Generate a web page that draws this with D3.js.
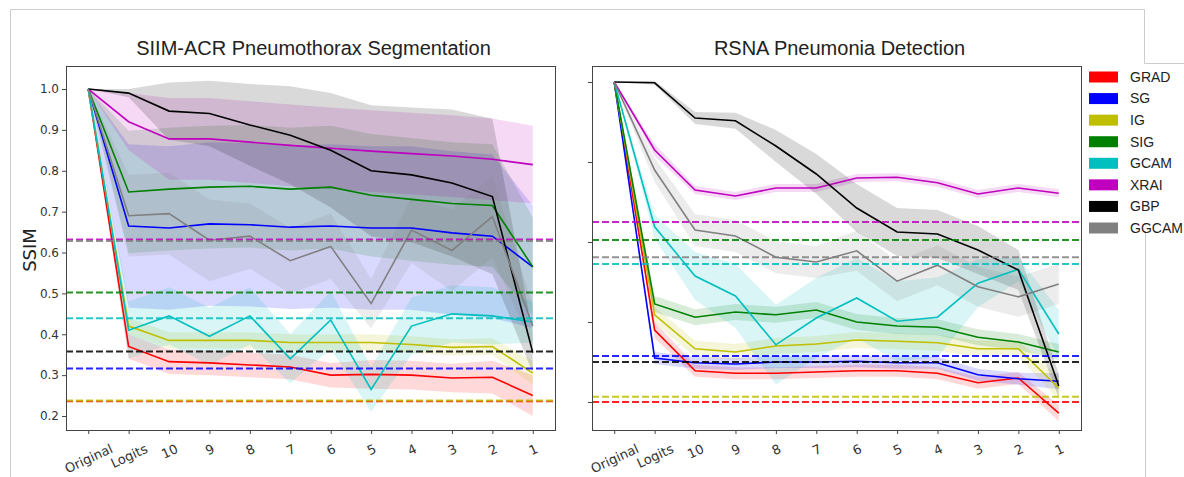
<!DOCTYPE html>
<html>
<head>
<meta charset="utf-8">
<script src="https://cdn.jsdelivr.net/npm/d3@7/dist/d3.min.js"></script>
<style>
  body { margin: 0; background: #fff; }
  svg { display: block; }
</style>
</head>
<body>
<div id="chart"></div>
<script>
// step labels along the x axis
const steps = ["Original", "Logits", "10", "9", "8", "7", "6", "5", "4", "3", "2", "1"];
const methods = ["GRAD", "SG", "IG", "SIG", "GCAM", "XRAI", "GBP", "GGCAM"];
const palette = ["#ff0000", "#0000ff", "#bfbf00", "#008000", "#00bfbf", "#bf00bf", "#000000", "#808080"];

// SIIM-ACR: mean SSIM per method (rows follow `methods`)
const siimMean = [
  [1.0, 0.37, 0.333, 0.33, 0.325, 0.32, 0.30, 0.302, 0.30, 0.293, 0.295, 0.25],
  [1.0, 0.665, 0.66, 0.67, 0.668, 0.662, 0.665, 0.66, 0.66, 0.648, 0.64, 0.565],
  [1.0, 0.42, 0.385, 0.385, 0.385, 0.38, 0.38, 0.38, 0.375, 0.368, 0.37, 0.305],
  [1.0, 0.748, 0.755, 0.76, 0.762, 0.755, 0.76, 0.74, 0.73, 0.72, 0.715, 0.565],
  [1.0, 0.41, 0.445, 0.395, 0.445, 0.34, 0.435, 0.265, 0.42, 0.45, 0.445, 0.43],
  [1.0, 0.92, 0.878, 0.878, 0.87, 0.862, 0.855, 0.848, 0.842, 0.836, 0.828, 0.815],
  [1.0, 0.99, 0.946, 0.94, 0.912, 0.887, 0.85, 0.80, 0.79, 0.77, 0.737, 0.355],
  [1.0, 0.69, 0.695, 0.63, 0.64, 0.58, 0.615, 0.475, 0.655, 0.605, 0.688, 0.42]
];
const siimSpread = [
  [0, 0.03, 0.03, 0.03, 0.03, 0.03, 0.03, 0.035, 0.035, 0.035, 0.04, 0.05],
  [0, 0.2, 0.2, 0.2, 0.2, 0.2, 0.2, 0.2, 0.2, 0.2, 0.2, 0.15],
  [0, 0.02, 0.02, 0.02, 0.02, 0.02, 0.02, 0.02, 0.02, 0.02, 0.02, 0.03],
  [0, 0.15, 0.15, 0.15, 0.15, 0.15, 0.15, 0.15, 0.15, 0.15, 0.15, 0.12],
  [0, 0.07, 0.07, 0.07, 0.07, 0.06, 0.07, 0.055, 0.07, 0.07, 0.07, 0.05],
  [0, 0.07, 0.1, 0.1, 0.1, 0.1, 0.1, 0.1, 0.1, 0.1, 0.1, 0.095],
  [0, 0.01, 0.07, 0.08, 0.1, 0.12, 0.14, 0.16, 0.165, 0.18, 0.19, 0.05],
  [0, 0.1, 0.1, 0.1, 0.08, 0.08, 0.08, 0.06, 0.08, 0.1, 0.1, 0.05]
];
const siimBaseline = [0.236, 0.316, 0.238, 0.502, 0.439, 0.632, 0.358, 0.628];

// RSNA: mean SSIM per method
const rsnaMean = [
  [1.0, 0.38, 0.278, 0.272, 0.272, 0.275, 0.278, 0.278, 0.272, 0.248, 0.26, 0.172],
  [1.0, 0.31, 0.298, 0.295, 0.30, 0.30, 0.302, 0.298, 0.298, 0.268, 0.258, 0.252],
  [1.0, 0.418, 0.333, 0.325, 0.34, 0.345, 0.355, 0.352, 0.348, 0.333, 0.333, 0.235],
  [1.0, 0.445, 0.412, 0.425, 0.418, 0.43, 0.40, 0.39, 0.387, 0.362, 0.35, 0.325],
  [1.0, 0.638, 0.515, 0.465, 0.343, 0.41, 0.46, 0.402, 0.412, 0.497, 0.532, 0.37],
  [1.0, 0.83, 0.73, 0.715, 0.735, 0.735, 0.76, 0.762, 0.748, 0.72, 0.735, 0.722],
  [1.0, 0.998, 0.91, 0.903, 0.84, 0.77, 0.685, 0.625, 0.62, 0.58, 0.53, 0.24],
  [1.0, 0.78, 0.63, 0.615, 0.562, 0.55, 0.578, 0.502, 0.542, 0.488, 0.463, 0.495]
];
const rsnaSpread = [
  [0, 0.02, 0.015, 0.015, 0.015, 0.015, 0.015, 0.015, 0.015, 0.015, 0.015, 0.02],
  [0, 0.015, 0.015, 0.015, 0.015, 0.015, 0.015, 0.015, 0.015, 0.015, 0.015, 0.02],
  [0, 0.02, 0.02, 0.02, 0.02, 0.02, 0.02, 0.02, 0.02, 0.02, 0.02, 0.03],
  [0, 0.02, 0.02, 0.02, 0.02, 0.02, 0.02, 0.02, 0.02, 0.02, 0.02, 0.02],
  [0, 0.03, 0.06, 0.08, 0.1, 0.1, 0.1, 0.1, 0.1, 0.06, 0.03, 0.06],
  [0, 0.015, 0.01, 0.01, 0.01, 0.01, 0.01, 0.01, 0.01, 0.01, 0.01, 0.01],
  [0, 0.005, 0.015, 0.02, 0.04, 0.05, 0.06, 0.06, 0.06, 0.06, 0.05, 0.03],
  [0, 0.03, 0.04, 0.04, 0.04, 0.04, 0.05, 0.05, 0.05, 0.05, 0.05, 0.05]
];
const rsnaBaseline = [0.20, 0.315, 0.213, 0.605, 0.545, 0.65, 0.30, 0.562];

const siimTicks = [0.2, 0.3, 0.4, 0.5, 0.6, 0.7, 0.8, 0.9, 1.0];
const rsnaTicks = [0.2, 0.4, 0.6, 0.8, 1.0];

const width = 1184, height = 477;
const plotTop = 66, plotBottom = 430;

const svg = d3.select("#chart").append("svg")
  .attr("width", width)
  .attr("height", height);

// page frame lines from the screenshot
const frame = svg.append("g").attr("stroke", "#cccccc").attr("fill", "none");
frame.append("path").attr("d", "M10.5,477 V9.5 H1144.5 V63.5 H1184");
frame.append("path").attr("d", "M1145.5,232 V477");

function drawPanel(opt) {
  const x = d3.scaleLinear().domain([-0.55, 11.55]).range([opt.left, opt.right]);
  const y = d3.scaleLinear().domain(opt.yDomain).range([plotBottom, plotTop]);
  const g = svg.append("g");

  const clipId = "clip-" + opt.id;
  g.append("clipPath").attr("id", clipId).append("rect")
    .attr("x", opt.left).attr("y", plotTop)
    .attr("width", opt.right - opt.left).attr("height", plotBottom - plotTop);

  const plot = g.append("g").attr("clip-path", `url(#${clipId})`);

  const area = d3.area()
    .x((d, i) => x(i))
    .y0(d => y(d[0] - d[1]))
    .y1(d => y(d[0] + d[1]));
  const line = d3.line().x((d, i) => x(i)).y(d => y(d));

  // shaded spread, all below the lines
  opt.mean.forEach((m, k) => {
    plot.append("path")
      .attr("d", area(m.map((v, i) => [v, opt.spread[k][i]])))
      .attr("fill", palette[k])
      .attr("fill-opacity", 0.15);
  });

  opt.mean.forEach((m, k) => {
    plot.append("path")
      .attr("d", line(m))
      .attr("fill", "none")
      .attr("stroke", palette[k])
      .attr("stroke-width", 1.6);
  });

  opt.baseline.forEach((b, k) => {
    plot.append("line")
      .attr("x1", opt.left).attr("x2", opt.right)
      .attr("y1", y(b)).attr("y2", y(b))
      .attr("stroke", palette[k])
      .attr("stroke-width", 2)
      .attr("stroke-dasharray", "7,3")
      .attr("stroke-opacity", 0.85);
  });

  // axes
  const xAxis = g.append("g")
    .attr("transform", `translate(0,${plotBottom})`)
    .call(d3.axisBottom(x).tickValues(d3.range(steps.length))
      .tickFormat(i => steps[i]).tickSizeOuter(0).tickSize(4).tickPadding(0));
  const ang = 25 * Math.PI / 180;
  xAxis.selectAll("text")
    .attr("font-family", "DejaVu Sans")
    .attr("font-size", 13)
    .attr("fill", "#333")
    .attr("text-anchor", "middle")
    .attr("dominant-baseline", "central")
    .attr("y", null).attr("dy", null)
    .attr("transform", function () {
      const w = this.getComputedTextLength();
      const h = 13;
      const cy = 12 + (w * Math.sin(ang) + h * Math.cos(ang)) / 2;
      return `translate(0,${cy}) rotate(-25)`;
    });

  const yAxis = g.append("g")
    .attr("transform", `translate(${opt.left},0)`)
    .call(d3.axisLeft(y).tickValues(opt.ticks)
      .tickFormat(opt.showLabels ? d3.format(".1f") : () => "")
      .tickSizeOuter(0).tickSize(4).tickPadding(3));
  yAxis.selectAll("text")
    .attr("font-family", "DejaVu Sans")
    .attr("font-size", 12)
    .attr("fill", "#333");

  g.selectAll(".domain").remove();
  g.selectAll(".tick line").attr("stroke", "#444");

  g.append("rect")
    .attr("x", opt.left + 0.5).attr("y", plotTop + 0.5)
    .attr("width", opt.right - opt.left).attr("height", plotBottom - plotTop)
    .attr("fill", "none")
    .attr("stroke", "#444")
    .attr("stroke-width", 1);

  g.append("text")
    .attr("x", (opt.left + opt.right) / 2 + 3)
    .attr("y", 55)
    .attr("text-anchor", "middle")
    .attr("font-family", "Liberation Sans")
    .attr("font-size", 20)
    .attr("fill", "#222")
    .text(opt.title);
}

drawPanel({
  id: "siim", title: "SIIM-ACR Pneumothorax Segmentation",
  left: 66, right: 555, yDomain: [0.1658, 1.0563], ticks: siimTicks, showLabels: true,
  mean: siimMean, spread: siimSpread, baseline: siimBaseline
});
drawPanel({
  id: "rsna", title: "RSNA Pneumonia Detection",
  left: 592, right: 1081, yDomain: [0.13, 1.04], ticks: rsnaTicks, showLabels: false,
  mean: rsnaMean, spread: rsnaSpread, baseline: rsnaBaseline
});

svg.append("text")
  .attr("transform", "translate(36,250) rotate(-90)")
  .attr("text-anchor", "middle")
  .attr("font-family", "DejaVu Sans")
  .attr("font-size", 18)
  .attr("fill", "#222")
  .text("SSIM");

// legend
const legend = svg.append("g");
const ly = d3.scalePoint().domain(methods).range([77, 228]);
methods.forEach((m, k) => {
  legend.append("rect")
    .attr("x", 1089).attr("y", ly(m) - 5.5)
    .attr("width", 29).attr("height", 11)
    .attr("fill", palette[k]);
  legend.append("text")
    .attr("x", 1130).attr("y", ly(m))
    .attr("dy", "0.35em")
    .attr("font-family", "Liberation Sans")
    .attr("font-size", 14)
    .attr("fill", "#222")
    .text(m);
});
</script>
</body>
</html>
